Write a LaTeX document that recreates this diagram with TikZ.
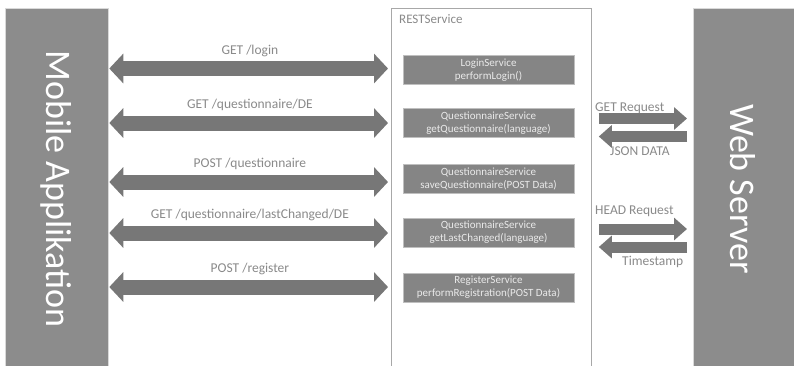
\documentclass[tikz,border=0pt]{standalone}
\usepackage{fontspec}
\setmainfont{Carlito}
\usetikzlibrary{arrows.meta,calc}
\definecolor{bargray}{HTML}{8C8C8C}
\definecolor{arrgray}{HTML}{777777}
\definecolor{labgray}{HTML}{8A8A8A}
\definecolor{svcgray}{HTML}{858585}
\definecolor{svctext}{HTML}{EAEAEA}
\definecolor{framegray}{HTML}{A8A8A8}
\tikzset{
  x=1pt,y=-1pt,
  bar/.style={fill=bargray,draw=black!15,line width=0.8pt,inner sep=0pt},
  bartext/.style={text=white,font=\fontsize{36}{40}\selectfont,rotate=-90},
  svc/.style={fill=svcgray,draw=black!25,line width=0.6pt,minimum width=171pt,minimum height=29pt,inner sep=0pt,
    text=svctext,font=\fontsize{11}{13}\selectfont,align=center},
  bigarrow/.style={line width=15pt,draw=arrgray,{Triangle[width=29pt,length=14pt]}-{Triangle[width=29pt,length=14pt]},shorten <=0.5pt,shorten >=3pt},
  smallarrow/.style={line width=11pt,draw=arrgray,-{Triangle[width=22pt,length=13pt]}},
  lab/.style={text=labgray,font=\fontsize{13.5}{15}\selectfont,inner sep=1pt},
  toplab/.style={lab,midway,above=3.5pt},
}
\begin{document}
\begin{tikzpicture}
\useasboundingbox (0,0) rectangle (794,365);
\fill[white] (0,0) rectangle (794,365);
% bars
\node[bar,anchor=north west,minimum width=103pt,minimum height=362pt] (mob) at (5,8) {};
\node[bartext] (mobtext) at (56,189) {Mobile Applikation};
\node[bar,anchor=north west,minimum width=104pt,minimum height=362pt] (web) at (693,8) {};
\node[bartext] (webtext) at (743,189) {Web Server};
% REST box
\node[draw=framegray,line width=0.8pt,anchor=north west,minimum width=200pt,minimum height=362pt,inner sep=0pt] (rest) at (391,8) {};
\node[lab,anchor=north west,font=\fontsize{13}{15}\selectfont] (resttitle) at (398,13) {RESTService};
% services
\node[svc] (s1) at (488.5,70) {LoginService\\performLogin()};
\node[svc] (s2) at (488.5,123) {QuestionnaireService\\getQuestionnaire(language)};
\node[svc] (s3) at (488.5,178.5) {QuestionnaireService\\saveQuestionnaire(POST Data)};
\node[svc] (s4) at (488.5,232.5) {QuestionnaireService\\getLastChanged(language)};
\node[svc] (s5) at (488.5,287.5) {RegisterService\\performRegistration(POST Data)};
% arrow levels
\coordinate (y1) at (0,68.5);
\coordinate (y2) at (0,123);
\coordinate (y3) at (0,182);
\coordinate (y4) at (0,233);
\coordinate (y5) at (0,287);
\draw[bigarrow] (mob.east |- y1) -- (rest.west |- y1) node[toplab] (l1) {GET /login};
\draw[bigarrow] (mob.east |- y2) -- (rest.west |- y2) node[toplab] (l2) {GET /questionnaire/DE};
\draw[bigarrow] (mob.east |- y3) -- (rest.west |- y3) node[toplab] (l3) {POST /questionnaire};
\draw[bigarrow] (mob.east |- y4) -- (rest.west |- y4) node[toplab] (l4) {GET /questionnaire/lastChanged/DE};
\draw[bigarrow] (mob.east |- y5) -- (rest.west |- y5) node[toplab] (l5) {POST /register};
% right side arrows
\coordinate (r1) at (0,118.5);
\coordinate (r2) at (0,136.5);
\coordinate (r3) at (0,229);
\coordinate (r4) at (0,247);
\draw[smallarrow,shorten <=7pt,shorten >=6pt] (rest.east |- r1) -- (web.west |- r1);
\draw[smallarrow,shorten <=6pt,shorten >=7pt] (web.west |- r2) -- (rest.east |- r2);
\draw[smallarrow,shorten <=7pt,shorten >=6pt] (rest.east |- r3) -- (web.west |- r3);
\draw[smallarrow,shorten <=6pt,shorten >=7pt] (web.west |- r4) -- (rest.east |- r4);
\node[lab,anchor=west] (lget) at (594,108) {GET Request};
\node[lab,anchor=west] (ljson) at (609,151) {JSON DATA};
\node[lab,anchor=west] (lhead) at (594,211) {HEAD Request};
\node[lab,anchor=west] (lts) at (621,262) {Timestamp};
\end{tikzpicture}
\end{document}
